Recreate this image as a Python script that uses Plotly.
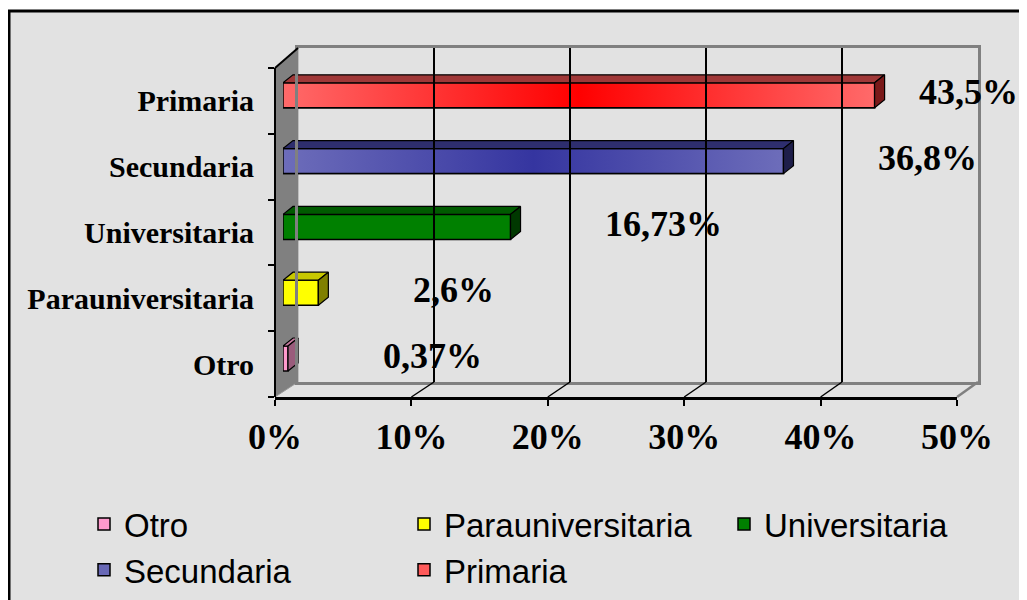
import plotly.graph_objects as go

W, H = 1027, 600

# ---------------- data ----------------
categories = ["Otro", "Parauniversitaria", "Universitaria", "Secundaria", "Primaria"]
values = [0.37, 2.6, 16.73, 36.8, 43.5]
value_labels = ["0,37%", "2,6%", "16,73%", "36,8%", "43,5%"]
tick_vals = [0, 10, 20, 30, 40, 50]
tick_text = ["0%", "10%", "20%", "30%", "40%", "50%"]

front_colors = ["#ff99cc", "#ffff00", "#008000", "#6868b6", "#ff5a5a"]
top_colors = ["#c77a9f", "#c8c800", "#005a00", "#2e2e6e", "#a03838"]
side_colors = ["#9a5c7c", "#808000", "#003800", "#1e1e4a", "#7a1a1a"]
gradient_scales = {
    3: [[0, "#6d6dba"], [0.5, "#3535a0"], [1, "#6d6dba"]],
    4: [[0, "#ff6a6a"], [0.5, "#ff0000"], [1, "#ff6a6a"]],
}

# ---------------- geometry (pixels in the page) ----------------
PLOT_TOP, FLOOR_FRONT, FLOOR_BACK, WALL_TOP = 68, 397, 382, 48
WALL_LF, WALL_LB = 275, 298
BAR_X0, BAR_X1 = 283, 963
FRONT_X1, BACK_X1 = 957, 978
XMAX = 50
OX, OY = 8, 8   # page body margin around the plot div


def fx(px):
    return (px - OX) / W


def fy(py):
    return 1 - (py - OY) / H


BAR_W = 0.38
BAR_SHIFT = 0.085
DX = 10 / ((BAR_X1 - BAR_X0) / XMAX)          # depth in value units
DY = 8 / ((FLOOR_FRONT - PLOT_TOP) / 5.0)      # depth in category units
SERIF = "Liberation Serif, Times New Roman, serif"
SANS = "Liberation Sans, Arial, sans-serif"

fig = go.Figure()

positions = list(range(len(categories)))

# bars (one trace per category -> legend entries)
for i, (cat, v) in enumerate(zip(categories, values)):
    fig.add_trace(go.Bar(
        x=[v], y=[positions[i]], orientation="h", name=cat,
        width=BAR_W, offset=BAR_SHIFT - BAR_W / 2,
        marker=dict(color=front_colors[i], line=dict(color="black", width=1.5)),
        xaxis="x", yaxis="y", hoverinfo="x+name",
    ))

# 3D faces derived from the values
for i, v in enumerate(values):
    yb = positions[i] + BAR_SHIFT - BAR_W / 2
    yt = positions[i] + BAR_SHIFT + BAR_W / 2
    if i in gradient_scales:
        fig.add_trace(go.Scatter(
            x=[0, v, v, 0, 0], y=[yb, yb, yt, yt, yb], mode="lines",
            fill="toself", fillgradient=dict(type="horizontal", colorscale=gradient_scales[i]),
            line=dict(color="black", width=1.5), showlegend=False, hoverinfo="skip",
            xaxis="x", yaxis="y",
        ))
    # top face
    fig.add_trace(go.Scatter(
        x=[0, v, v + DX, DX, 0], y=[yt, yt, yt + DY, yt + DY, yt], mode="lines",
        fill="toself", fillcolor=top_colors[i], line=dict(color="black", width=1.2),
        showlegend=False, hoverinfo="skip", xaxis="x", yaxis="y",
    ))
    # end face
    fig.add_trace(go.Scatter(
        x=[v, v, v + DX, v + DX, v], y=[yb, yt, yt + DY, yb + DY, yb], mode="lines",
        fill="toself", fillcolor=side_colors[i], line=dict(color="black", width=1.2),
        showlegend=False, hoverinfo="skip", xaxis="x", yaxis="y",
    ))

# dummy traces to create wall / front-axis subplots
fig.add_trace(go.Scatter(x=[None], y=[None], xaxis="x2", yaxis="y2", showlegend=False, hoverinfo="skip"))
fig.add_trace(go.Scatter(x=[None], y=[None], xaxis="x3", yaxis="y", showlegend=False, hoverinfo="skip"))

# value labels
for i, (v, lab) in enumerate(zip(values, value_labels)):
    fig.add_annotation(
        x=min(v + 6.8, 46.6), y=positions[i] + BAR_SHIFT, xref="x", yref="y",
        text=lab, showarrow=False, xanchor="left", yanchor="middle", yshift=3,
        font=dict(family=SERIF, size=36, color="black", weight="bold"),
    )

shapes = []
# chart area background with border
shapes.append(dict(type="rect", xref="paper", yref="paper", x0=fx(9), y0=fy(11), x1=fx(1060), y1=fy(630),
                   fillcolor="#e2e2e2", line=dict(color="black", width=3), layer="below"))
# left wall
shapes.append(dict(type="path", xref="paper", yref="paper", layer="below",
                   path=f"M{fx(WALL_LF)},{fy(PLOT_TOP)} L{fx(WALL_LB)},{fy(WALL_TOP)} L{fx(WALL_LB)},{fy(FLOOR_BACK)} L{fx(WALL_LF)},{fy(FLOOR_FRONT)} Z",
                   fillcolor="#808080", line=dict(color="#9a9a9a", width=1)))
shapes.append(dict(type="line", xref="paper", yref="paper", x0=fx(WALL_LF), y0=fy(PLOT_TOP),
                   x1=fx(WALL_LB), y1=fy(WALL_TOP), line=dict(color="black", width=2)))
# floor right edge
shapes.append(dict(type="line", xref="paper", yref="paper", x0=fx(BACK_X1), y0=fy(FLOOR_BACK),
                   x1=fx(FRONT_X1), y1=fy(FLOOR_FRONT), line=dict(color="#808080", width=2.5)))
# floor grid lines from each front tick to the back wall grid line
for t in tick_vals[1:-1]:
    xf = WALL_LF + t / XMAX * (FRONT_X1 - WALL_LF)
    xb = WALL_LB + t / XMAX * (BACK_X1 - WALL_LB)
    shapes.append(dict(type="line", xref="paper", yref="paper", x0=fx(xf), y0=fy(FLOOR_FRONT),
                       x1=fx(xb), y1=fy(FLOOR_BACK), line=dict(color="black", width=1.5)))

fig.update_layout(
    width=W, height=H, autosize=False,
    margin=dict(l=0, r=0, t=0, b=0, autoexpand=False),
    paper_bgcolor="white", plot_bgcolor="rgba(0,0,0,0)",
    barmode="overlay", showlegend=True,
    shapes=shapes,
    xaxis=dict(domain=[fx(BAR_X0), fx(BAR_X1)], range=[0, XMAX], visible=False, fixedrange=True,
               anchor="y", automargin=False),
    yaxis=dict(domain=[fy(FLOOR_FRONT), fy(PLOT_TOP)], range=[-0.5, 4.5], anchor="free", position=fx(WALL_LF),
               tickvals=positions, ticktext=categories, ticks="", showgrid=False, zeroline=False,
               showline=True, linecolor="black", linewidth=2, ticklabelstandoff=14, automargin=False,
               minor=dict(tickvals=[p - 0.5 for p in positions] + [positions[-1] + 0.5], ticks="outside",
                          ticklen=6, tickwidth=2, tickcolor="black", showgrid=False),
               tickfont=dict(family=SERIF, size=30, color="black", weight="bold"), fixedrange=True),
    xaxis2=dict(domain=[fx(WALL_LB), fx(BACK_X1)], range=[0, XMAX], anchor="y2", automargin=False,
                tickvals=tick_vals[1:-1], showticklabels=False, ticks="", showgrid=True,
                gridcolor="black", gridwidth=1.5, zeroline=False, showline=True, mirror=True,
                linecolor="#808080", linewidth=2.5, fixedrange=True),
    yaxis2=dict(domain=[fy(FLOOR_BACK), fy(WALL_TOP)], range=[0, 1], anchor="x2", automargin=False,
                showticklabels=False, ticks="", showgrid=False, zeroline=False, showline=True,
                mirror=True, linecolor="#808080", linewidth=2.5, fixedrange=True),
    xaxis3=dict(domain=[fx(WALL_LF), fx(FRONT_X1)], range=[0, XMAX], anchor="y", automargin=False,
                tickvals=tick_vals, ticktext=tick_text, ticks="outside", ticklen=6, tickwidth=2,
                tickcolor="black", showgrid=False, zeroline=False, showline=True, linecolor="black",
                linewidth=3, ticklabelstandoff=0,
                tickfont=dict(family=SERIF, size=36, color="black", weight="bold"), fixedrange=True),
    legend=dict(orientation="h", x=fx(84), y=fy(496), xanchor="left", yanchor="top",
                bgcolor="rgba(0,0,0,0)", entrywidth=275, entrywidthmode="pixels",
                font=dict(family=SANS, size=33, color="black"), traceorder="normal"),
)

fig.write_html("out.html")
